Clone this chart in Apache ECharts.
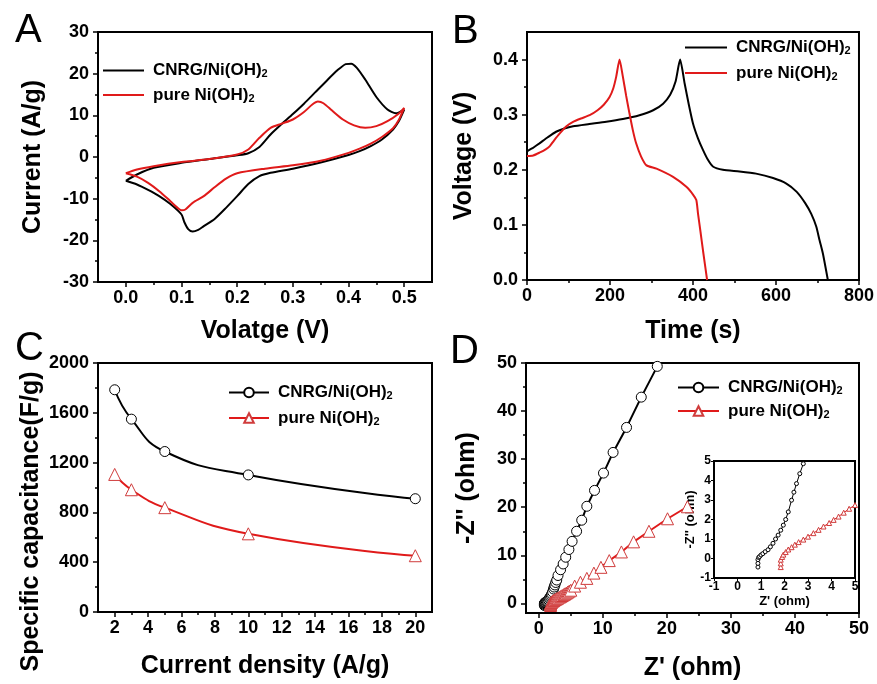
<!DOCTYPE html>
<html><head><meta charset="utf-8">
<script src="https://cdn.jsdelivr.net/npm/echarts@6/dist/echarts.min.js"></script>
<style>html,body{margin:0;padding:0;background:#fff}#c{width:877px;height:684px}</style>
</head><body><div id="c"></div>
<script>
// ---------- DATA ----------
const seriesNames = ['CNRG/Ni(OH)2', 'pure Ni(OH)2'];

// Panel A: cyclic voltammetry [V, A/g]
const cvBlack = [[0,-5.7],[0.02,-4.2],[0.05,-2.6],[0.1,-1.4],[0.15,-0.5],[0.2,0.4],[0.22,0.9],[0.24,2.4],[0.26,5.4],[0.28,7.9],[0.3,10.3],[0.32,12.8],[0.34,15.5],[0.36,18.2],[0.38,20.8],[0.395,22.3],[0.405,22.4],[0.415,21.4],[0.43,18.6],[0.45,14.4],[0.47,11.4],[0.485,10.5],[0.5,11.4],
  [0.49,8.5],[0.48,6.6],[0.46,4.2],[0.44,2.6],[0.42,1.4],[0.4,0.5],[0.35,-1.3],[0.3,-2.8],[0.26,-3.8],[0.24,-4.6],[0.22,-6.5],[0.2,-9.4],[0.18,-12.2],[0.16,-14.8],[0.14,-16.6],[0.13,-17.5],[0.12,-17.9],[0.112,-17.3],[0.105,-15.6],[0.1,-13.8],[0.08,-11.3],[0.06,-9.4],[0.04,-7.9],[0.02,-6.6],[0,-5.7]];
const cvRed = [[0,-3.9],[0.02,-3.0],[0.05,-2.2],[0.1,-1.2],[0.15,-0.5],[0.2,0.6],[0.22,1.8],[0.24,4.6],[0.26,7.0],[0.28,8.0],[0.3,9.0],[0.32,10.8],[0.335,12.6],[0.345,13.3],[0.355,12.9],[0.37,11.2],[0.39,9.0],[0.41,7.6],[0.43,7.0],[0.45,7.4],[0.47,8.6],[0.49,10.4],[0.5,11.8],
  [0.49,8.8],[0.48,6.9],[0.46,4.8],[0.44,3.2],[0.42,2.0],[0.4,1.0],[0.35,-0.9],[0.3,-2.0],[0.25,-2.8],[0.2,-3.9],[0.18,-5.2],[0.16,-7.2],[0.14,-9.4],[0.12,-11.0],[0.107,-12.6],[0.1,-12.8],[0.094,-12.3],[0.08,-10.6],[0.06,-8.2],[0.04,-6.2],[0.02,-4.7],[0,-3.9]];

// Panel B: galvanostatic charge/discharge [s, V]
const gcdBlack = [[0,0],[0,0.232],[15,0.240],[30,0.248],[50,0.259],[70,0.269],[90,0.275],[111,0.279],[150,0.283],[191,0.287],[231,0.292],[271,0.299],[304,0.308],[328,0.320],[345,0.336],[358,0.360],[369,0.400],[380,0.356],[390,0.318],[400,0.284],[412,0.257],[424,0.236],[436,0.218],[448,0.206],[472,0.200],[512,0.197],[552,0.193],[593,0.185],[625,0.175],[650,0.160],[670,0.140],[685,0.120],[697,0.097],[705,0.072],[713,0.048],[725,0]];
const gcdRed = [[0,0.225],[15,0.226],[30,0.231],[45,0.237],[55,0.243],[65,0.253],[79,0.266],[95,0.279],[111,0.287],[130,0.293],[151,0.299],[170,0.308],[185,0.318],[199,0.332],[208,0.348],[215,0.369],[223,0.400],[231,0.369],[239,0.334],[247,0.302],[255,0.272],[263,0.248],[275,0.224],[288,0.208],[312,0.202],[352,0.187],[384,0.169],[400,0.155],[408,0.145],[412,0.121],[418,0.088],[424,0.054],[434,0]];

// Panel C: rate capability
const rateX = [2, 3, 5, 10, 20];
const rateBlack = [1785, 1549, 1289, 1101, 910];
const rateRed = [1105, 982, 838, 628, 452];

// Panel D: Nyquist [Z', -Z'']
const eisBlack = [[0.87,-0.44],[0.87,-0.25],[0.87,-0.06],[0.9,0.05],[0.94,0.1],[1.0,0.18],[1.08,0.25],[1.18,0.35],[1.3,0.45],[1.4,0.6],[1.51,0.78],[1.62,1.0],[1.73,1.2],[1.84,1.45],[1.95,1.71],[2.05,2.0],[2.16,2.39],[2.3,2.99],[2.4,3.4],[2.51,3.84],[2.65,4.35],[2.8,4.86],[3.0,5.8],[3.4,7.0],[3.8,8.2],[4.2,9.6],[4.7,11.2],[5.2,12.9],[5.9,15.0],[6.7,17.3],[7.5,20.2],[8.7,23.5],[10.1,27.1],[11.6,31.4],[13.7,36.6],[16.0,42.9],[18.5,49.3]];
const eisRed = [[1.84,-0.44],[1.84,-0.25],[1.84,-0.06],[1.9,0.08],[1.95,0.2],[2.05,0.33],[2.16,0.46],[2.3,0.58],[2.44,0.71],[2.6,0.84],[2.8,0.97],[3.0,1.12],[3.23,1.3],[3.45,1.47],[3.66,1.64],[3.9,1.82],[4.09,1.98],[4.3,2.15],[4.52,2.35],[4.75,2.55],[5.0,2.74],[5.6,3.6],[6.5,4.4],[7.5,5.2],[8.6,6.3],[9.7,7.5],[11.0,8.9],[12.9,10.7],[14.8,12.8],[17.2,15.0],[20.1,17.6],[23.2,20.1]];

// Tick labels
const aXTicks = [0, 0.1, 0.2, 0.3, 0.4, 0.5];
const aXMinor = [0.05, 0.15, 0.25, 0.35, 0.45];
const aYTicks = [-30, -20, -10, 0, 10, 20, 30];
const aYMinor = [-25, -15, -5, 5, 15, 25];
const bXTicks = [0, 200, 400, 600, 800];
const bXMinor = [100, 300, 500, 700];
const bYTicks = [0, 0.1, 0.2, 0.3, 0.4];
const bYMinor = [0.05, 0.15, 0.25, 0.35];
const cXTicks = [2, 4, 6, 8, 10, 12, 14, 16, 18, 20];
const cXMinor = [3, 5, 7, 9, 11, 13, 15, 17, 19];
const cYTicks = [0, 400, 800, 1200, 1600, 2000];
const cYMinor = [200, 600, 1000, 1400, 1800];
const dTicks = [0, 10, 20, 30, 40, 50];
const dMinor = [5, 15, 25, 35, 45];
const insetTicks = [-1, 0, 1, 2, 3, 4, 5];

// ---------- CHART ----------
const FONT = '"Liberation Sans", Arial, Helvetica, sans-serif';
const BLACK = '#000000', RED = '#e01a1a', RED_MK = '#d03c3c';

const xAxes = [], yAxes = [];
function addAxes(dim, grid, min, max, majors, minors, fmt, name, nameGap, o) {
  o = o || {};
  const list = dim === 'x' ? xAxes : yAxes;
  const pos = dim === 'x' ? 'bottom' : 'left';
  const idx = list.length;
  list.push({
    type: 'value', gridIndex: grid, min, max, position: pos,
    axisLine: { show: true, onZero: false, lineStyle: { color: BLACK, width: o.lw || 2 } },
    axisTick: { show: true, customValues: majors, length: o.tl || 5, inside: false, lineStyle: { color: BLACK, width: o.tw || 1.5 } },
    axisLabel: { show: true, customValues: majors, formatter: fmt, color: BLACK, fontFamily: FONT, fontWeight: 'bold', fontSize: o.fs || 18, margin: o.margin || (dim === 'x' ? 7 : 9) },
    splitLine: { show: false },
    name, nameLocation: 'middle', nameGap,
    nameTextStyle: Object.assign({ color: BLACK, fontFamily: FONT, fontWeight: 'bold', fontSize: o.nfs || 25 }, o.nts || {})
  });
  if (minors) {
    list.push({
      type: 'value', gridIndex: grid, min, max, position: pos,
      axisLine: { show: false, onZero: false },
      axisTick: { show: true, customValues: minors, length: 3, inside: false, lineStyle: { color: BLACK, width: 1.5 } },
      axisLabel: { show: false }, splitLine: { show: false }
    });
  }
  return idx;
}

const grids = [
  { left: 98, top: 32, width: 334, height: 250 },
  { left: 527, top: 32, width: 332, height: 248 },
  { left: 98, top: 363, width: 334, height: 249 },
  { left: 526, top: 363, width: 333, height: 250 },
  { left: 714, top: 461, width: 141, height: 117, backgroundColor: '#fff' }
].map(g => Object.assign({ show: true, borderColor: BLACK, borderWidth: 2, containLabel: false }, g));

const f1 = v => v.toFixed(1);
const f0 = v => String(v);

const axA = addAxes('x', 0, -0.05, 0.55, aXTicks, aXMinor, f1, 'Volatge (V)', 37);
const ayA = addAxes('y', 0, -30, 30, aYTicks, aYMinor, f0, 'Current (A/g)', 52);
const axB = addAxes('x', 1, 0, 800, bXTicks, bXMinor, f0, 'Time (s)', 39);
const ayB = addAxes('y', 1, 0, 0.45, bYTicks, bYMinor, f1, 'Voltage (V)', 50);
const axC = addAxes('x', 2, 1, 21, cXTicks, cXMinor, f0, 'Current density (A/g)', 42);
const ayC = addAxes('y', 2, 0, 2000, cYTicks, cYMinor, f0, 'Specific capacitance(F/g)', 54, { nts: { padding: [0, 68, 0, 0] } });
const axD = addAxes('x', 3, -2, 50, dTicks, dMinor, f0, "Z' (ohm)", 43);
const ayD = addAxes('y', 3, -2, 50, dTicks, dMinor, f0, "-Z'' (ohm)", 46);
const axI = addAxes('x', 4, -1, 5, insetTicks, null, f0, "Z' (ohm)", 17, { fs: 12, nfs: 13, margin: 3, tl: 3, lw: 1.5, tw: 1 });
const ayI = addAxes('y', 4, -1, 5, insetTicks, null, f0, "-Z'' (ohm)", 12, { fs: 12, nfs: 13, margin: 3, tl: 3, lw: 1.5, tw: 1 });

const nm = (p, i) => p + '|' + seriesNames[i];
const lineS = (p, i, xi, yi, data, color, smooth) => ({
  type: 'line', name: nm(p, i), xAxisIndex: xi, yAxisIndex: yi, data,
  symbol: 'none', showSymbol: false, smooth, lineStyle: { color, width: 2 }, itemStyle: { color }
});
const markS = (p, i, xi, yi, data, color, sym, size, mkColor, lw, smooth) => ({
  type: 'line', name: nm(p, i), xAxisIndex: xi, yAxisIndex: yi, data,
  symbol: sym, symbolSize: size, showSymbol: true, smooth,
  lineStyle: { color, width: lw }, itemStyle: { color: '#fff', borderColor: mkColor, borderWidth: 1 }
});

const rateBlackData = rateX.map((x, k) => [x, rateBlack[k]]);
const rateRedData = rateX.map((x, k) => [x, rateRed[k]]);

const series = [
  lineS('A', 0, axA, ayA, cvBlack, BLACK, 0.25),
  lineS('A', 1, axA, ayA, cvRed, RED, 0.25),
  lineS('B', 0, axB, ayB, gcdBlack, BLACK, 0.2),
  lineS('B', 1, axB, ayB, gcdRed, RED, 0.2),
  markS('C', 0, axC, ayC, rateBlackData, BLACK, 'circle', 10, BLACK, 2, 0.5),
  markS('C', 1, axC, ayC, rateRedData, RED, 'triangle', 12, RED_MK, 2, 0.5),
  markS('D', 0, axD, ayD, eisBlack, BLACK, 'circle', 10, BLACK, 2, false),
  markS('D', 1, axD, ayD, eisRed, RED, 'triangle', 12, RED_MK, 2, false),
  markS('I', 0, axI, ayI, eisBlack, BLACK, 'circle', 4, BLACK, 1, false),
  markS('I', 1, axI, ayI, eisRed, RED, 'triangle', 5, RED_MK, 1, false)
];

const legendFmt = n => n.split('|')[1].replace(/2$/, '{sub|2}');
function legend(p, left, top, iw, ih, gap, icon) {
  const l = {
    data: [nm(p, 0), nm(p, 1)], orient: 'vertical', left, top, itemWidth: iw, itemHeight: ih, itemGap: gap,
    padding: 0, selectedMode: false, formatter: legendFmt,
    textStyle: {
      color: BLACK, fontFamily: FONT, fontWeight: 'bold', fontSize: 17, padding: [0, 0, 0, 4],
      rich: { sub: { color: BLACK, fontFamily: FONT, fontWeight: 'bold', fontSize: 11, padding: [7, 0, 0, 0] } }
    }
  };
  if (icon) l.icon = icon;
  return l;
}

const letter = (t, left, top) => ({ text: t, left, top, padding: 0, textStyle: { color: BLACK, fontFamily: FONT, fontWeight: 'normal', fontSize: 40 } });

const option = {
  animation: false,
  backgroundColor: '#fff',
  title: [letter('A', 15, 11), letter('B', 452, 12), letter('C', 15, 329), letter('D', 450, 332)],
  legend: [legend('A', 103, 62, 41, 2, 7, 'rect'), legend('B', 685, 39, 42, 2, 8, 'rect'), legend('C', 228, 384, 40, 12, 8), legend('D', 677, 379, 41, 12, 6)],
  grid: grids,
  xAxis: xAxes,
  yAxis: yAxes,
  series
};
const chart = echarts.init(document.getElementById('c'), null, { renderer: 'canvas' });
chart.setOption(option);
</script>
</body></html>
